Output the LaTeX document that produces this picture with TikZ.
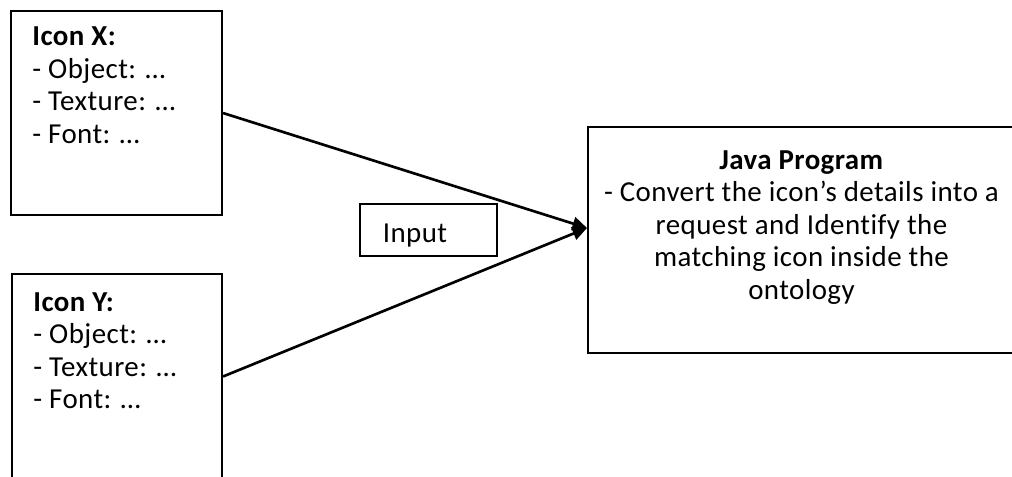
\documentclass[tikz,border=0pt]{standalone}
\usepackage{fontspec}
\setmainfont{Carlito}[Ligatures=NoCommon, LetterSpace=1.5]
\usetikzlibrary{arrows.meta,positioning}

\begin{document}
\begin{tikzpicture}[
  x=0.415pt, y=-0.415pt,
  box/.style={draw, line width=0.8pt, inner sep=0pt, anchor=north west},
  info/.style={font=\fontsize{12}{13.5}\selectfont, align=left, inner sep=0pt},
  link/.style={-{Triangle[length=6pt, width=5.5pt]}, line width=1.1pt}
]
  \useasboundingbox (0,0) rectangle (1012,476);

  % Boxes
  \node[box, minimum width=87.6pt, minimum height=84.7pt] (iconX) at (10,10) {};
  \node[box, minimum width=87.2pt, minimum height=85.1pt] (iconY) at (11,273) {};
  \node[box, minimum width=177.2pt, minimum height=93.8pt] (java) at (587,126) {};
  \node[box, info, text width=37.8pt, inner xsep=9.5pt, minimum height=21.6pt,
        text height=10pt, text depth=0pt] (input) at (359,203) {Input};

  % Texts inside the boxes
  \node[info, below right=6.8pt and 9.1pt of iconX.north west] (iconXtext)
    {\textbf{Icon X:}\\- Object: …\\- Texture: …\\- Font: …};
  \node[info, below right=7.9pt and 9.1pt of iconY.north west] (iconYtext)
    {\textbf{Icon Y:}\\- Object: …\\- Texture: …\\- Font: …};
  \node[info, align=center, below=10pt of java.north] (javaText)
    {\textbf{Java Program}\\- Convert the icon’s details into a\\request and Identify the\\matching icon inside the\\ontology};

  % Arrows
  \coordinate (tip) at (587,228);
  \draw[link] (iconX.east) -- (tip);
  \draw[link] (iconY.east) -- (tip);
\end{tikzpicture}
\end{document}
